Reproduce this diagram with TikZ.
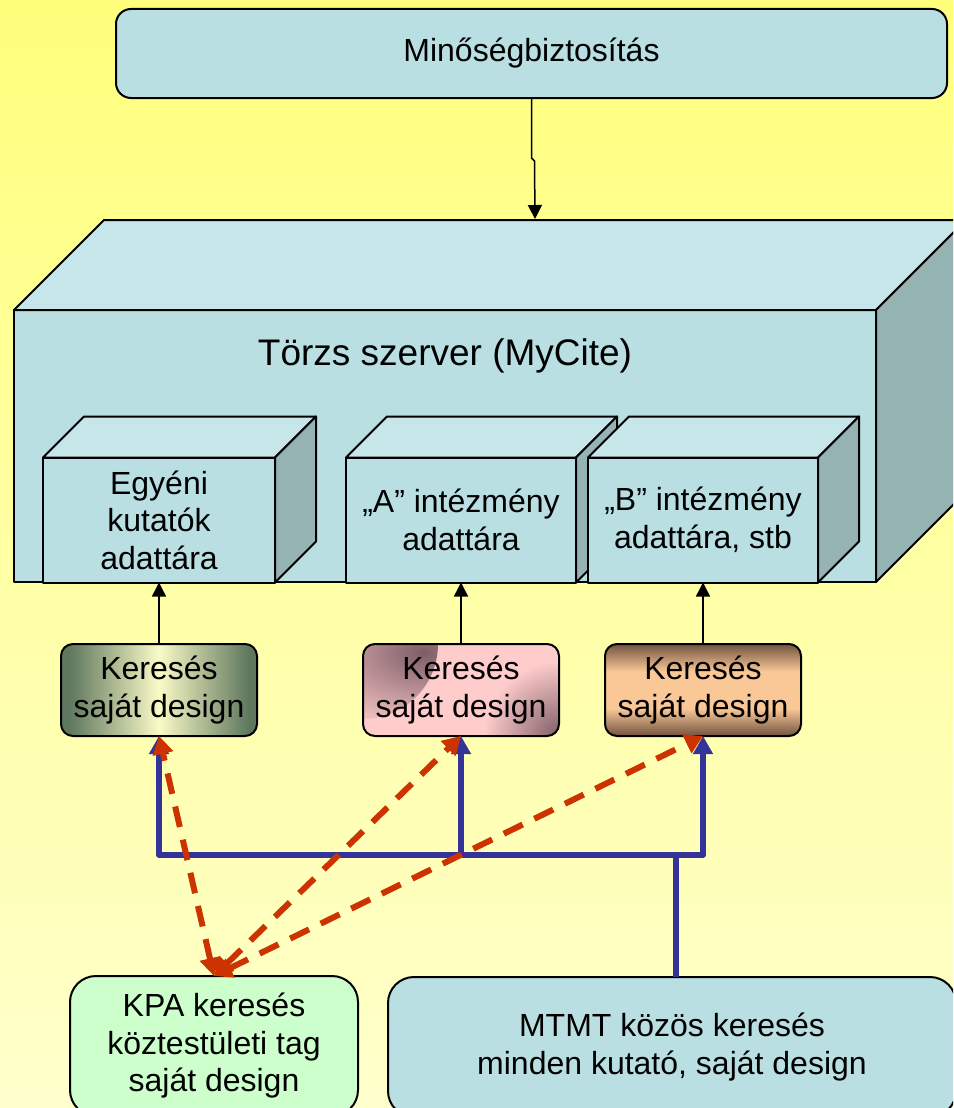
\documentclass[tikz,border=0pt]{standalone}
\usepackage{fontspec}
\setmainfont{Liberation Sans}
\usetikzlibrary{arrows.meta}

\definecolor{bgtop}{HTML}{FFFF7C}
\definecolor{bgbot}{HTML}{FFFFCC}
\definecolor{boxfront}{HTML}{B9DFE3}
\definecolor{boxtop}{HTML}{C7E6E9}
\definecolor{boxside}{HTML}{96B3B4}
\definecolor{linkblue}{HTML}{333399}
\definecolor{linkred}{HTML}{CC3300}
\definecolor{kpagreen}{HTML}{CCFFCC}
\definecolor{grdark}{HTML}{5E775E}
\definecolor{grlight}{HTML}{FAFAC6}
\definecolor{pkdark}{HTML}{7E5E66}
\definecolor{pklight}{HTML}{FFCCCC}
\definecolor{brdark}{HTML}{7A5B46}
\definecolor{brlight}{HTML}{F9C896}

\pgfdeclarehorizontalshading{greenband}{100bp}{color(0bp)=(grdark); color(27bp)=(grdark); color(50bp)=(grlight); color(73bp)=(grdark); color(100bp)=(grdark)}
\pgfdeclareverticalshading{brownband}{100bp}{color(0bp)=(brdark); color(26bp)=(brdark); color(40bp)=(brlight); color(60bp)=(brlight); color(74bp)=(brdark); color(100bp)=(brdark)}

\begin{document}
\begin{tikzpicture}[x=1pt,y=-1pt,line join=round,
  big font/.style={font=\fontsize{32}{37.5}\selectfont},
  front face/.style={draw,line width=2pt,fill=boxfront,outer sep=0pt,align=center,big font},
  top face/.style={draw,line width=2pt,fill=boxtop},
  side face/.style={draw,line width=2pt,fill=boxside},
  search node/.style={draw,line width=2pt,rounded corners=12pt,minimum width=196pt,minimum height=92pt,
    outer sep=0pt,align=center,big font},
  bottom node/.style={draw,line width=2pt,rounded corners=26pt,minimum height=140pt,
    outer sep=0pt,align=center,big font},
  thin arrow/.style={draw,line width=1.5pt,-{Triangle[length=14pt,width=14pt]}},
  blue link/.style={draw=linkblue,line width=6pt,-{Triangle[length=18pt,width=19pt]}},
  red link/.style={draw=linkred,line width=6pt,dash pattern=on 21pt off 13pt,
    {Triangle[length=18pt,width=20pt]}-{Triangle[length=18pt,width=20pt]}}]

  \useasboundingbox (0,0) rectangle (953,1108);
  \clip (0,0) rectangle (953,1108);
  \shade[top color=bgtop,bottom color=bgbot] (0,0) rectangle (953,1108);

  % quality box
  \node[draw,line width=2pt,fill=boxfront,rounded corners=15pt,minimum width=831pt,minimum height=89pt,
    outer sep=0pt,big font] (minoseg) at (531.5,53.5) {Minőségbiztosítás};

  % main server
  \node[front face,minimum width=862pt,minimum height=272pt] (torzs) at (445,446) {};
  \filldraw[top face] (torzs.north west) -- ++(90,-90) -- ++(862,0) -- (torzs.north east) -- cycle;
  \filldraw[side face] (torzs.north east) -- ++(90,-90) -- ++(0,272) -- (torzs.south east) -- cycle;
  \coordinate (torzstop) at (535,219);
  \node[font=\fontsize{37}{44}\selectfont] (torzslabel) at (445,356) {Törzs szerver (MyCite)};

  % repositories
  \node[front face,minimum width=232pt,minimum height=125pt] (egyeni) at (159,520) {Egyéni\\kutatók\\adattára};
  \filldraw[top face] (egyeni.north west) -- ++(41,-41) -- ++(232,0) -- (egyeni.north east) -- cycle;
  \filldraw[side face] (egyeni.north east) -- ++(41,-41) -- ++(0,125) -- (egyeni.south east) -- cycle;

  \node[front face,minimum width=230pt,minimum height=125pt] (aint) at (461,520) {„A” intézmény\\adattára};
  \filldraw[top face] (aint.north west) -- ++(41,-41) -- ++(230,0) -- (aint.north east) -- cycle;
  \filldraw[side face] (aint.north east) -- ++(41,-41) -- ++(0,125) -- (aint.south east) -- cycle;

  \node[front face,minimum width=230pt,minimum height=125pt] (bint) at (703,520) {„B” intézmény\\adattára, stb};
  \filldraw[top face] (bint.north west) -- ++(41,-41) -- ++(230,0) -- (bint.north east) -- cycle;
  \filldraw[side face] (bint.north east) -- ++(41,-41) -- ++(0,125) -- (bint.south east) -- cycle;

  % search boxes
  \node[search node,shading=greenband] (ker1) at (159,690) {Keresés\\saját design};
  \node[search node,fill=pklight,path picture={
      \shade[inner color=pkdark,outer color=pklight] (path picture bounding box.north west) circle (75pt);
      \shade[inner color=pkdark,outer color=pklight] (path picture bounding box.south east) circle (75pt);}]
    (ker2) at (461,690) {Keresés\\saját design};
  \node[search node,shading=brownband] (ker3) at (703,690) {Keresés\\saját design};

  % portals
  \node[bottom node,fill=kpagreen,minimum width=288pt] (kpa) at (214,1046) {KPA keresés\\köztestületi tag\\saját design};
  \node[bottom node,fill=boxfront,minimum width=568pt] (mtmt) at (672,1047) {MTMT közös keresés\\minden kutató, saját design};
  \coordinate (hub) at (676,855);

  \draw[thin arrow] (minoseg.south) -- ++(0,60) -- ++(3,3) -- (torzstop);
  \draw[thin arrow] (ker1.north) -- (egyeni.south);
  \draw[thin arrow] (ker2.north) -- (aint.south);
  \draw[thin arrow] (ker3.north) -- (bint.south);

  \draw[blue link,-] (mtmt.north -| hub) -- (hub);
  \draw[blue link] (hub) -| (ker1.south);
  \draw[blue link] (hub) -| (ker3.south);
  \draw[blue link] (hub -| ker2.south) -- (ker2.south);

  \draw[red link] (kpa.north) -- (ker1.south);
  \draw[red link] (kpa.north) -- (ker2.south);
  \draw[red link] (kpa.north) -- (ker3.south);

\end{tikzpicture}
\end{document}
